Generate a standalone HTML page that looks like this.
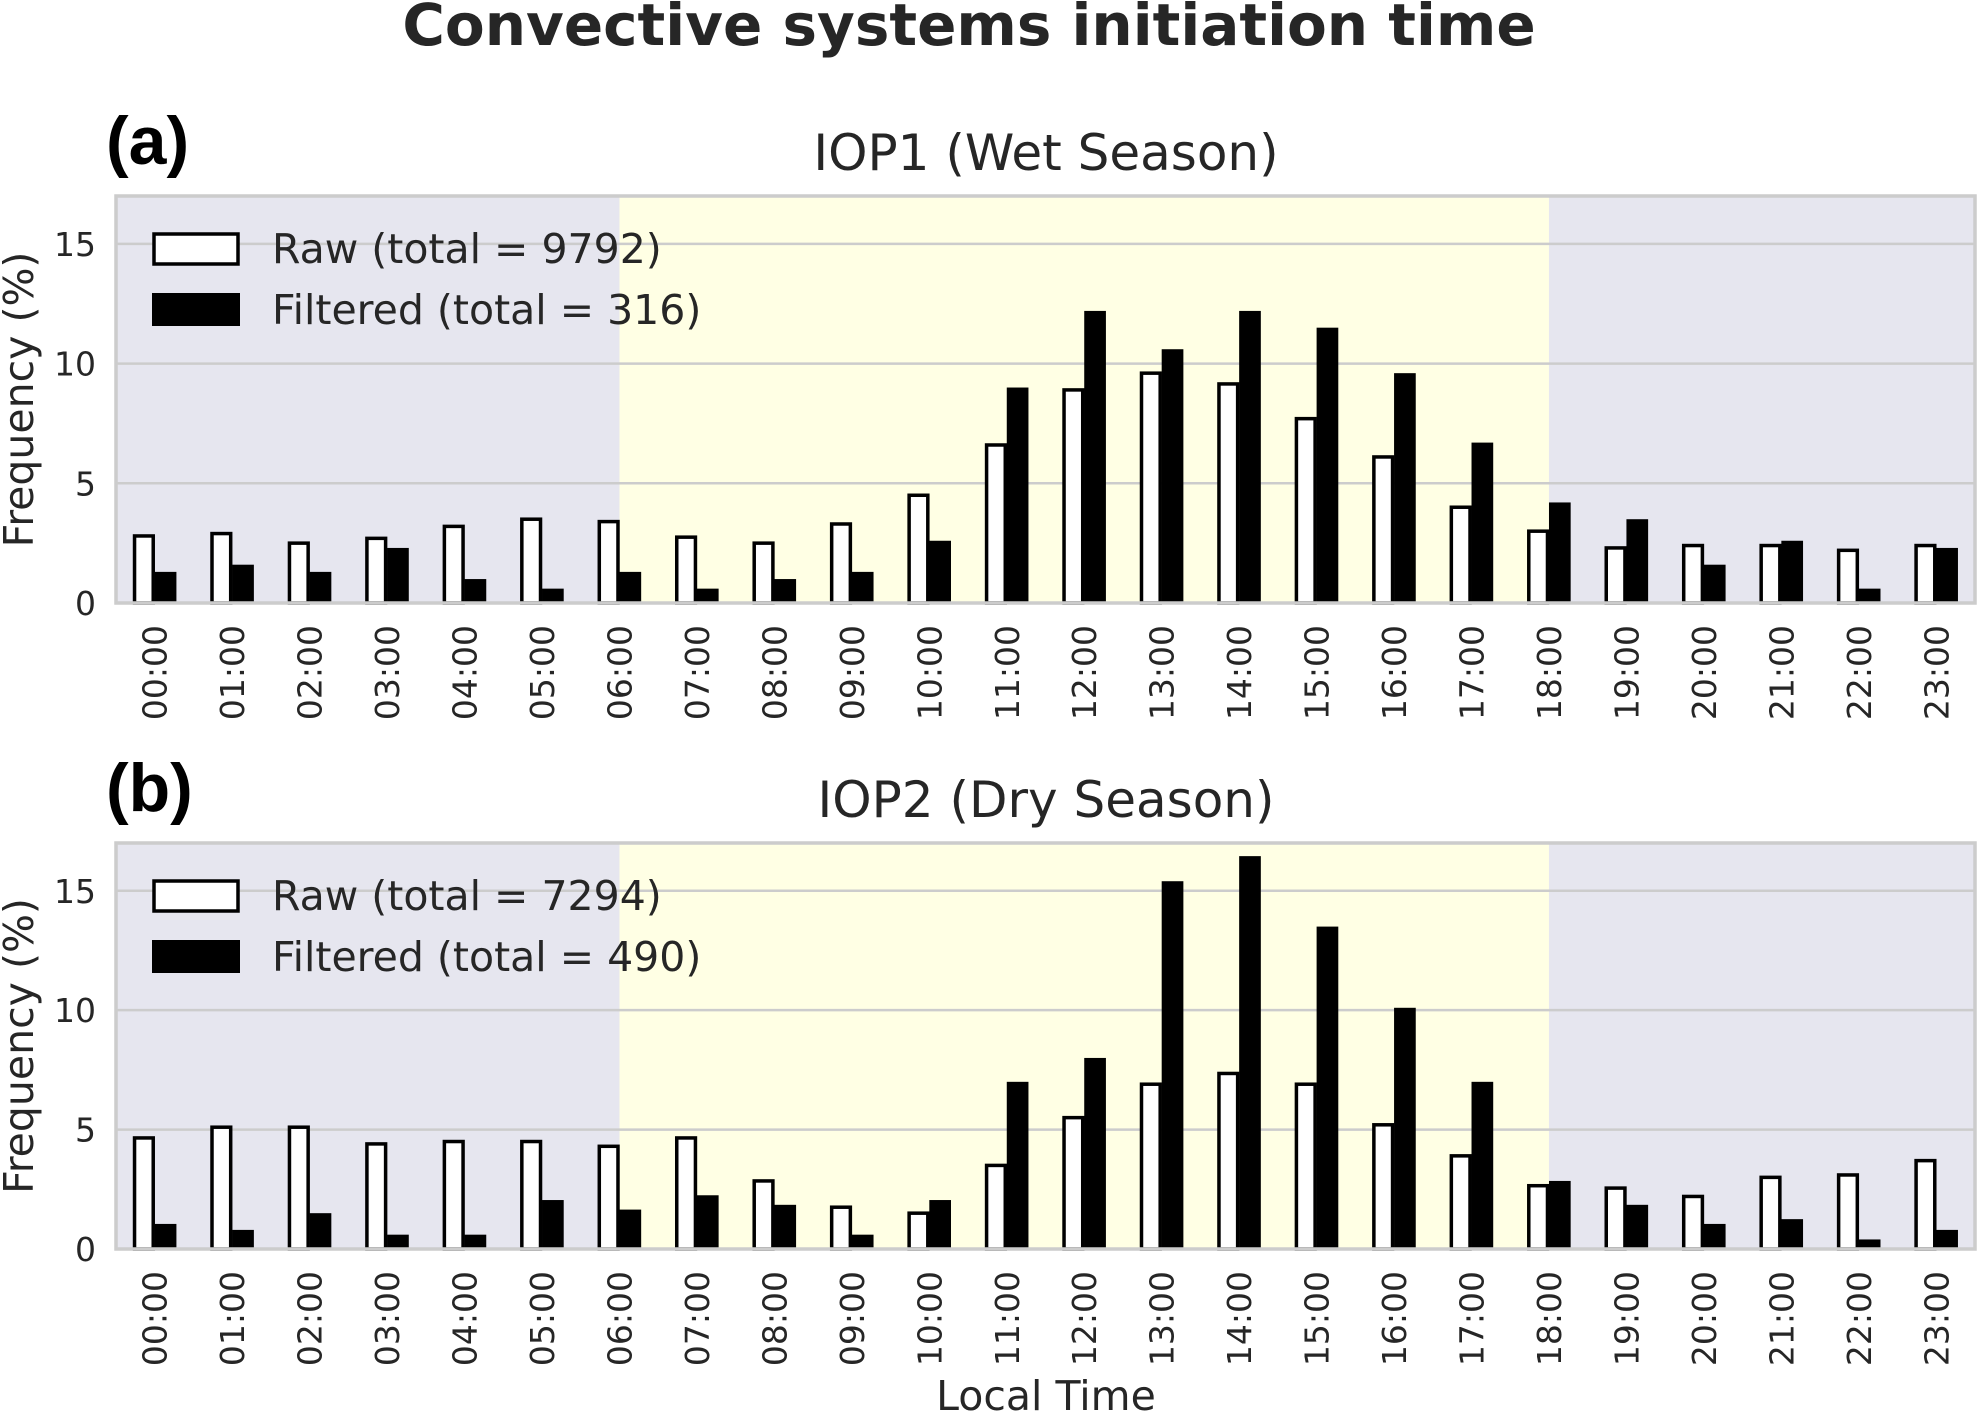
<!DOCTYPE html>
<html><head><meta charset="utf-8"><style>
html,body{margin:0;padding:0;background:#fff;}
svg{display:block;font-family:"DejaVu Sans","Liberation Sans",sans-serif;}
</style></head><body>
<svg id="fig" width="1979" height="1415" viewBox="0 0 1979 1415" xmlns="http://www.w3.org/2000/svg">
<text x="969" y="45" text-anchor="middle" font-size="58" font-weight="bold" fill="#262626">Convective systems initiation time</text>
<text x="1046" y="1410" text-anchor="middle" font-size="41" fill="#262626">Local Time</text>
</svg>
<script>
const hours = ["00:00","01:00","02:00","03:00","04:00","05:00","06:00","07:00","08:00","09:00","10:00","11:00","12:00","13:00","14:00","15:00","16:00","17:00","18:00","19:00","20:00","21:00","22:00","23:00"];
const yTicks = [0,5,10,15];
const rawA = [2.8,2.9,2.5,2.7,3.2,3.5,3.4,2.75,2.5,3.3,4.5,6.6,8.9,9.6,9.15,7.7,6.1,4.0,3.0,2.3,2.4,2.4,2.2,2.4];
const filtA = [1.3,1.6,1.3,2.3,1.0,0.6,1.3,0.6,1.0,1.3,2.6,9.0,12.2,10.6,12.2,11.5,9.6,6.7,4.2,3.5,1.6,2.6,0.6,2.3];
const rawB = [4.65,5.1,5.1,4.4,4.5,4.5,4.3,4.65,2.85,1.75,1.5,3.5,5.5,6.9,7.35,6.9,5.2,3.9,2.65,2.55,2.2,3.0,3.1,3.7];
const filtB = [1.05,0.8,1.5,0.6,0.6,2.05,1.65,2.25,1.85,0.6,2.05,7.0,8.0,15.4,16.45,13.5,10.1,7.0,2.85,1.85,1.05,1.25,0.4,0.8];
const panels = [
 {key:"a", letter:"(a)", title:"IOP1 (Wet Season)", raw:rawA, filt:filtA, rawTotal:"9792", filtTotal:"316", top:196, bottom:603},
 {key:"b", letter:"(b)", title:"IOP2 (Dry Season)", raw:rawB, filt:filtB, rawTotal:"7294", filtTotal:"490", top:843, bottom:1249}
];
const NS="http://www.w3.org/2000/svg";
const svg=document.getElementById('fig');
const L=116, R=1975, YMAX=17, BW=0.28;
function mk(tag,attrs,parent){const e=document.createElementNS(NS,tag);for(const k in attrs)e.setAttribute(k,attrs[k]);(parent||svg).appendChild(e);return e;}
const xs = v => L + (v+0.5)*(R-L)/24;
panels.forEach(p=>{
  const ys = v => p.bottom - v*(p.bottom-p.top)/YMAX;
  const g=mk('g',{});
  
  
  const bg=mk('rect',{x:L,y:p.top,width:R-L,height:p.bottom-p.top,fill:'#e6e6ef'},g);
  
  
  const day=mk('rect',{x:xs(6),y:p.top,width:xs(18)-xs(6),height:p.bottom-p.top,fill:'#ffffe4'},g);
  
  
  yTicks.forEach(t=>{
    const gl=mk('line',{x1:L,x2:R,y1:ys(t),y2:ys(t),stroke:'#cccccc','stroke-width':2.5},g);
    
    
    const tl=mk('text',{x:96,y:ys(t)+12,'text-anchor':'end','font-size':33,fill:'#262626'},g);
    tl.textContent=t;
    
    
  });
  hours.forEach((h,i)=>{
    const rv=p.raw[i], fv=p.filt[i];
    const rb=mk('rect',{x:xs(i-BW)+1.5,y:ys(rv),width:xs(BW)-xs(0)-3,height:ys(0)-ys(rv),fill:'#fff',stroke:'#000','stroke-width':3.5},g);
    
    
    const fb=mk('rect',{x:xs(i),y:ys(fv),width:xs(BW)-xs(0),height:ys(0)-ys(fv),fill:'#000'},g);
    
    
    const cx=xs(i)+12, cy=p.bottom+22;
    const xl=mk('text',{x:cx,y:cy,'text-anchor':'end','font-size':33,fill:'#262626',transform:`rotate(-90 ${cx} ${cy})`},g);
    xl.textContent=h;
    
    
  });
  const fr=mk('rect',{x:L,y:p.top,width:R-L,height:p.bottom-p.top,fill:'none',stroke:'#cccccc','stroke-width':3.5},g);
  
  
  const lp1=mk('rect',{x:154,y:p.top+38,width:84,height:30,fill:'#fff',stroke:'#000','stroke-width':3.5},g);
  
  
  const lt1=mk('text',{x:272,y:p.top+67,'font-size':41,fill:'#262626'},g);
  lt1.textContent='Raw (total = '+p.rawTotal+')';
  
  
  const lp2=mk('rect',{x:152,y:p.top+97,width:88,height:33,fill:'#000'},g);
  
  
  const lt2=mk('text',{x:272,y:p.top+128,'font-size':41,fill:'#262626'},g);
  lt2.textContent='Filtered (total = '+p.filtTotal+')';
  
  
  const st=mk('text',{x:1046,y:p.top-26,'text-anchor':'middle','font-size':50,fill:'#262626'},g);
  st.textContent=p.title;
  
  
  const lt=mk('text',{x:106,y:p.top-32,'font-size':68,'font-weight':'bold',fill:'#000','font-family':'Liberation Sans, sans-serif'},g);
  lt.textContent=p.letter;
  
  
  const cy=(p.top+p.bottom)/2;
  const yl=mk('text',{x:33,y:cy,'text-anchor':'middle','font-size':41,fill:'#262626',transform:`rotate(-90 33 ${cy})`},g);
  yl.textContent='Frequency (%)';
  
  
});
</script>
</body></html>
